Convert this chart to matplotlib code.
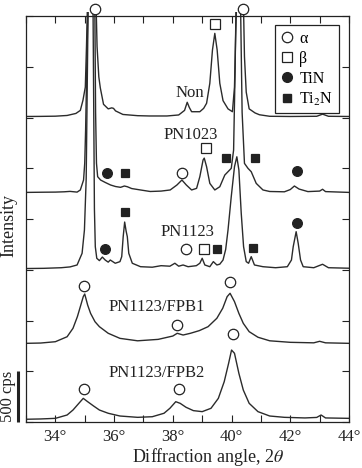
import matplotlib
matplotlib.use("Agg")
import matplotlib.pyplot as plt
from matplotlib.lines import Line2D
from matplotlib.transforms import Bbox, TransformedBbox, blended_transform_factory

plt.rcParams['font.family'] = ['Liberation Serif', 'DejaVu Serif']
plt.rcParams['mathtext.fontset'] = 'stix'

# ---------------- data (2theta in degrees, intensity in cps above trace offset) -------------
non_x = [33.0, 33.5, 34.0, 34.4, 34.7, 34.85, 34.94, 35.02, 35.06, 35.1, 35.25, 35.38, 35.42,
         35.48, 35.53, 35.64, 35.8, 35.92, 35.98, 36.05, 36.3, 36.8, 37.2, 37.8, 38.2, 38.4,
         38.49, 38.56, 38.64, 38.92, 39.05, 39.15, 39.26, 39.35, 39.43, 39.51, 39.6, 39.71,
         39.88, 40.03, 40.1, 40.14, 40.18, 40.3, 40.4, 40.44, 40.5, 40.6, 40.8, 40.95, 41.3,
         42.0, 42.9, 43.1, 43.3, 44.0]
non_y = [10, 11, 13, 20, 40, 70, 170, 300, 700, 1200, 1300, 1200, 700,
         400, 293, 130, 85, 95, 90, 65, 30, 18, 15, 15, 25, 70,
         150, 100, 57, 57, 90, 140, 337, 665, 829, 665, 337, 166,
         85, 57, 300, 800, 1200, 1300, 1200, 600, 250, 85, 45, 27, 12,
         10, 12, 33, 12, 10]

pn1023_x = [33.0, 33.6, 34.0, 34.3, 34.5, 34.74, 34.85, 34.96, 35.0, 35.03, 35.08, 35.12, 35.34,
            35.37, 35.4, 35.44, 35.54, 35.7, 35.88, 36.05, 36.22, 36.35, 36.45, 36.6, 36.9,
            37.23, 37.6, 37.91, 38.14, 38.31, 38.46, 38.64, 38.81, 38.92, 39.03, 39.07, 39.15,
            39.26, 39.43, 39.6, 39.77, 39.88, 39.99, 40.07, 40.12, 40.16, 40.3, 40.36, 40.44,
            40.56, 40.67, 40.84, 41.07, 41.3, 41.8, 42.0, 42.14, 42.3, 42.6, 43.0, 43.1, 43.2, 44.0]
pn1023_y = [12, 14, 15, 18, 22, 15, 36, 134, 300, 627, 1400, 2000, 2000,
            800, 300, 167, 134, 110, 85, 70, 62, 75, 68, 50, 36,
            21, 25, 36, 85, 134, 85, 36, 52, 167, 331, 350, 265,
            101, 36, 68, 183, 216, 249, 429, 1200, 2000, 2000, 800, 298,
            249, 216, 101, 36, 21, 18, 40, 75, 45, 20, 25, 43, 20, 12]

pn1123_x = [33.0, 33.6, 34.2, 34.5, 34.74, 34.91, 34.99, 35.05, 35.12, 35.28, 35.33, 35.36, 35.41,
            35.5, 35.6, 35.7, 35.8, 35.87, 36.04, 36.2, 36.26, 36.31, 36.36, 36.41, 36.45, 36.5,
            36.62, 36.9, 37.3, 37.6, 37.9, 38.07, 38.2, 38.35, 38.52, 38.8, 38.92, 39.0, 39.09,
            39.26, 39.38, 39.5, 39.6, 39.71, 39.8, 39.88, 39.99, 40.1, 40.18, 40.25, 40.33, 40.41,
            40.5, 40.58, 40.67, 40.78, 41.07, 41.5, 41.9, 42.04, 42.1, 42.2, 42.27, 42.35, 42.44,
            42.8, 43.1, 43.3, 44.0]
pn1123_y = [12, 14, 20, 28, 47, 162, 392, 900, 2700, 2700, 600, 227, 113,
            90, 125, 95, 75, 96, 64, 80, 129, 326, 470, 380, 326, 162,
            64, 30, 25, 40, 35, 64, 35, 47, 30, 40, 64, 113, 47,
            30, 80, 47, 55, 96, 200, 392, 720, 1015, 1113, 983, 556, 227,
            80, 64, 129, 47, 30, 20, 30, 96, 227, 375, 260, 96, 30,
            20, 54, 20, 15]

fpb1_x = [33.0, 33.5, 34.0, 34.4, 34.6, 34.75, 34.85, 34.95, 35.0, 35.1, 35.2, 35.35, 35.5, 35.8,
          36.2, 36.8, 37.5, 38.0, 38.15, 38.35, 38.6, 38.9, 39.2, 39.5, 39.7, 39.85, 39.95,
          40.1, 40.25, 40.4, 40.6, 40.9, 41.3, 42.0, 42.8, 43.0, 43.2, 44.0]
fpb1_y = [25, 28, 41, 90, 173, 288, 386, 485, 511, 402, 320, 238, 189, 124,
          74, 50, 64, 97, 124, 107, 124, 150, 189, 272, 371, 485, 518,
          436, 320, 222, 140, 85, 50, 35, 30, 45, 30, 25]

fpb2_x = [33.0, 33.5, 34.0, 34.4, 34.6, 34.8, 34.95, 35.1, 35.3, 35.5, 35.8, 36.2, 36.8, 37.3,
          37.7, 37.9, 38.1, 38.25, 38.45, 38.7, 39.0, 39.3, 39.55, 39.75, 39.9, 40.0, 40.1,
          40.25, 40.4, 40.6, 40.9, 41.3, 41.8, 42.5, 42.9, 43.05, 43.2, 44.0]
fpb2_y = [27, 30, 36, 69, 118, 184, 233, 200, 158, 118, 86, 59, 46, 52,
          86, 135, 200, 184, 145, 112, 102, 135, 233, 397, 578, 709, 677,
          479, 315, 184, 102, 59, 46, 40, 45, 69, 40, 36]

sample_names = ["Non", "PN1023", "PN1123", "PN1123/FPB1", "PN1123/FPB2"]
trace_offsets = [3000, 2250, 1500, 750, 0]

# phase markers: (2theta, cps on plot)
alpha_x = [35.35, 40.4, 38.31, 38.44, 34.99, 39.94, 38.13, 34.99, 38.21, 40.05]
alpha_y = [4069, 4069, 2456, 1702, 1343, 1376, 956, 322, 322, 864]
beta_x = [39.43, 39.14, 39.06]
beta_y = [3918, 2703, 1702]
tin_x = [35.76, 42.23, 35.7, 42.22]
tin_y = [2456, 2473, 1702, 1964]
ti2n_x = [36.38, 39.82, 40.8, 36.36, 39.5, 40.72]
ti2n_y = [2456, 2598, 2598, 2066, 1702, 1717]

label_x = [38.59, 38.62, 38.51, 37.46, 37.46]
label_y = [3239, 2828, 1875, 1130, 486]

x_ticks = [33, 34, 35, 36, 37, 38, 39, 40, 41, 42, 43, 44]
y_ticks = [0, 500, 1000, 1500, 2000, 2500, 3000, 3500, 4000]

# ---------------- figure ----------------
fig = plt.figure(figsize=(3.62, 4.68), dpi=100)
ax = fig.add_axes([26/362, 46/468, 323/362, 406/468])
ax.set_xlim(33, 44)
ax.set_ylim(0, 4000)

clipbox = TransformedBbox(Bbox([[0, 0], [1, 1.01]]), ax.transAxes)
traces = [(non_x, non_y), (pn1023_x, pn1023_y), (pn1123_x, pn1123_y),
          (fpb1_x, fpb1_y), (fpb2_x, fpb2_y)]
for (xs, ys), off in zip(traces, trace_offsets):
    ln, = ax.plot(xs, [v + off for v in ys], color='#2b2b2b', lw=1.0, zorder=2)
    ln.set_clip_box(clipbox)

mk = dict(ls='none', clip_on=False, zorder=5, mew=0.9, mec='#222222')
ax.plot(alpha_x, alpha_y, marker='o', ms=7.5, mfc='white', **mk)
ax.plot(beta_x, beta_y, marker='s', ms=6.8, mfc='white', **mk)
ax.plot(tin_x, tin_y, marker='o', ms=7.0, mfc='#222222', **mk)
ax.plot(ti2n_x, ti2n_y, marker='s', ms=6.2, mfc='#222222', **mk)

for name, lx, ly in zip(sample_names, label_x, label_y):
    ax.text(lx, ly, name, ha='center', va='center', fontsize=12, color='#222222')

ax.set_xticks(x_ticks)
ax.set_xticklabels([f"{t}°" if t % 2 == 0 else "" for t in x_ticks])
ax.set_yticks(y_ticks)
ax.set_yticklabels([])
ax.tick_params(direction='in', length=5, width=0.8, top=True, right=True,
               labelsize=12, pad=5, colors='#222222')
for sp in ax.spines.values():
    sp.set_linewidth(0.9)
    sp.set_color('#222222')

ax.set_xlabel(r"Diffraction angle, 2$\theta$", fontsize=13, color='#222222')
ax.xaxis.set_label_coords(0.563, -0.060)
ax.xaxis.label.set_va('top')

ax.text(-0.052, 0.484, "Intensity", rotation=90, ha='center', va='center',
        fontsize=13, transform=ax.transAxes, color='#222222')

# 500 cps scale bar
btr = blended_transform_factory(ax.transAxes, ax.transData)
ax.plot([-0.026, -0.026], [0, 500], color='#222222', lw=2.2, transform=btr,
        clip_on=False, solid_capstyle='butt')
ax.text(-0.055, 250, "500 cps", rotation=90, ha='center', va='center',
        fontsize=12, transform=btr, color='#222222')

handles = [
    Line2D([], [], ls='none', marker='o', ms=7.5, mfc='white', mec='#222222', mew=0.9),
    Line2D([], [], ls='none', marker='s', ms=6.8, mfc='white', mec='#222222', mew=0.9),
    Line2D([], [], ls='none', marker='o', ms=7.0, mfc='#222222', mec='#222222'),
    Line2D([], [], ls='none', marker='s', ms=6.2, mfc='#222222', mec='#222222'),
]
leg = ax.legend(handles, ["α", "β", "TiN", "Ti$_2$N"], loc='upper right',
                bbox_to_anchor=(0.969, 0.978), fontsize=11.5, frameon=True,
                fancybox=False, edgecolor='#222222', framealpha=1,
                handlelength=0.8, handletextpad=0.4, labelspacing=0.25,
                borderpad=0.35, borderaxespad=0)
leg.get_frame().set_linewidth(0.9)
leg.set_zorder(6)

fig.savefig("out.png", dpi=100)
